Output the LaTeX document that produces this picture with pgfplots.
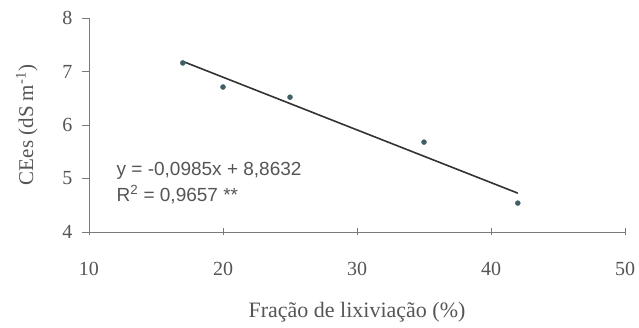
\documentclass[border=0pt]{standalone}
\usepackage{fontspec}
\setmainfont{Liberation Serif}
\newfontfamily\arialfont{Liberation Sans}
\usepackage{pgfplots}
\pgfplotsset{compat=1.18}
\definecolor{axgray}{HTML}{7A7A7A}
\definecolor{txtgray}{HTML}{555555}
\definecolor{ptcol}{HTML}{3F5E66}
\begin{document}
\begin{tikzpicture}
\useasboundingbox (-89pt,-96pt) rectangle (550pt,232pt);
\begin{axis}[
  scale only axis,
  width=536pt, height=214pt,
  xmin=10, xmax=50, ymin=4, ymax=8,
  axis x line=bottom, axis y line=left,
  axis line style={-, axgray, line width=0.8pt},
  xtick={10,20,30,40,50}, ytick={4,5,6,7,8},
  xtick align=center, ytick align=outside,
  major tick length=7pt,
  tick style={axgray, line width=0.8pt},
  /pgf/number format/assume math mode=true,
  ticklabel style={font=\fontsize{20}{24}\selectfont, text=txtgray},
  xticklabel style={yshift=-23pt},
  yticklabel style={xshift=-6pt},
  xlabel={Fração de lixiviação (\%)},
  ylabel={CEes (dS m\textsuperscript{-1})},
  xlabel style={font=\fontsize{22}{26}\selectfont, text=txtgray, at={(axis description cs:0.5,-0.374)}, anchor=center},
  ylabel style={font=\fontsize{21}{25}\selectfont, text=txtgray, at={(axis description cs:-0.116,0.5)}, anchor=center},
  clip=false,
]
\addplot[only marks, mark=*, mark size=2.5pt, color=ptcol] coordinates {
  (17,7.16) (20,6.71) (25,6.52) (35,5.68) (42,4.54)
};
\addplot[no marks, color=black!80, line width=1.6pt] coordinates {
  (17,7.189) (42,4.726)
};
\node[anchor=west, text=txtgray, font=\arialfont\fontsize{19}{26}\selectfont, align=left, inner sep=0pt] at (axis cs:12.05,4.92)
  {y = -0,0985x + 8,8632\\R\textsuperscript{2} = 0,9657 **};
\end{axis}
\end{tikzpicture}
\end{document}
